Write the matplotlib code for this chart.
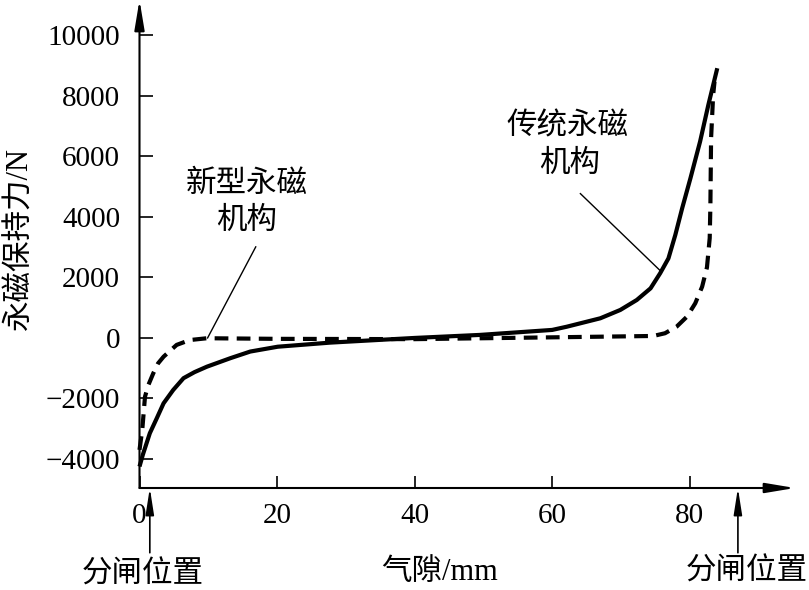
import numpy as np
import matplotlib.pyplot as plt

plt.rcParams['font.family'] = ['Liberation Serif', 'Noto Sans CJK SC']
plt.rcParams['axes.unicode_minus'] = True

# 传统永磁机构 (solid)
gap_old = [0, 0.5, 1.5, 2.5, 3.5, 4.9, 6.4, 8.0, 9.8, 13.2, 16.1, 20.1, 27.7, 40, 49.5,
           60, 62.1, 67.0, 69.9, 72.3, 74.3, 75.7, 76.9, 77.9, 78.9, 80.1, 81.5, 82.7,
           84.0]
force_old = [-4250, -3850, -3150, -2660, -2160, -1720, -1330, -1130, -950, -670, -450,
             -290, -155, 0, 100, 265, 370, 650, 925, 1255, 1640, 2140, 2630, 3405, 4290,
             5280, 6490, 7700, 8915]

# 新型永磁机构 (dashed)
gap_new = [0, 0.4, 0.8, 1.3, 2.0, 2.7, 3.5, 5.4, 7.3, 9.8, 20, 40, 60, 74.7, 76.4, 78.1,
           79.6, 80.8, 81.8, 82.5, 82.9, 83.0, 83.1, 83.4, 83.6]
force_new = [-3700, -3040, -1940, -1550, -1170, -840, -620, -230, -70, -10, -30, -40, 20,
             65, 155, 375, 705, 1145, 1695, 2330, 3300, 4400, 6600, 8030, 8470]

xticks = [0, 20, 40, 60, 80]
yticks = [-4000, -2000, 0, 2000, 4000, 6000, 8000, 10000]

fig = plt.figure(figsize=(8.09, 5.90), dpi=100)
ax = fig.add_axes([139.5 / 809, 102 / 590, 655.5 / 809, 488 / 590])
ax.set_xlim(0, 95.3)
ax.set_ylim(-4960, 11170)

ax.plot(gap_old, force_old, color='k', lw=3, solid_capstyle='butt',
        solid_joinstyle='round', clip_on=False)
ax.plot(gap_new, force_new, color='k', lw=3, dashes=(3.3, 2.0), clip_on=False)

for s in ax.spines.values():
    s.set_visible(False)

ax.set_xticks(xticks)
ax.set_yticks(yticks)
ax.tick_params(direction='in', length=9, width=1.2, labelsize=21)
ax.tick_params(axis='y', pad=14)
ax.tick_params(axis='x', pad=11)

# axis lines with arrow heads
arr = dict(arrowstyle='-|>,head_length=1.8,head_width=0.3', lw=1.5, color='k',
           shrinkA=0, shrinkB=0, mutation_scale=10)
ax.annotate('', xy=(1, 0), xytext=(0, 0), xycoords='axes fraction', arrowprops=arr,
            annotation_clip=False)
ax.annotate('', xy=(0, 1), xytext=(0, 0), xycoords='axes fraction', arrowprops=arr,
            annotation_clip=False)

# 分闸位置 arrows
small = dict(arrowstyle='-|>,head_length=1.6,head_width=0.25', lw=1.2, color='k',
             shrinkA=0, shrinkB=0, mutation_scale=10)
ax.annotate('', xy=(1.5, -4960), xytext=(1.5, -7100), arrowprops=small, annotation_clip=False)
ax.annotate('', xy=(87, -4960), xytext=(87, -7100), arrowprops=small, annotation_clip=False)

# leader lines
ax.plot([16.9, 9.9], [3010, 0], color='k', lw=1)
ax.plot([64.1, 75.7], [4770, 2225], color='k', lw=1)

ax.text(15.6, 5060, '新型永磁', fontsize=22, ha='center', va='center')
ax.text(15.6, 3835, '机构', fontsize=22, ha='center', va='center')
ax.text(62.2, 6975, '传统永磁', fontsize=22, ha='center', va='center')
ax.text(62.6, 5750, '机构', fontsize=22, ha='center', va='center')

fig.text(20 / 809, 1 - 238 / 590, '永磁保持力/N', fontsize=22, rotation=90,
         ha='center', va='center')
fig.text(440 / 809, 1 - 572 / 590, '气隙/mm', fontsize=22, ha='center', va='center')
fig.text(143 / 809, 1 - 575 / 590, '分闸位置', fontsize=22, ha='center', va='center')
fig.text(747 / 809, 1 - 572 / 590, '分闸位置', fontsize=22, ha='center', va='center')

fig.savefig('out.png', dpi=100)
